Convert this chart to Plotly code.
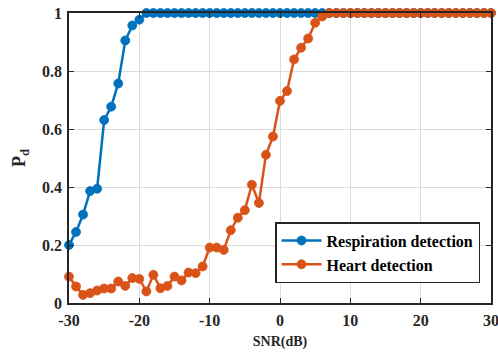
import plotly.graph_objects as go

snr = list(range(-30, 31))

resp_head = [0.20, 0.245, 0.305, 0.386, 0.394, 0.631, 0.677, 0.757, 0.905, 0.957, 0.977]
resp = resp_head + [1.0] * (len(snr) - len(resp_head))

heart_head = [0.091, 0.057, 0.028, 0.034, 0.043, 0.050, 0.050, 0.074, 0.059, 0.086,
              0.083, 0.040, 0.097, 0.051, 0.059, 0.091, 0.078, 0.105, 0.103, 0.126,
              0.191, 0.191, 0.183, 0.251, 0.294, 0.320, 0.408, 0.345, 0.511, 0.574,
              0.697, 0.731, 0.840, 0.880, 0.912, 0.966, 0.988]
heart = heart_head + [1.0] * (len(snr) - len(heart_head))

series_names = ["Respiration detection", "Heart detection"]
colors = ["#0072BD", "#D95319"]
x_ticks = [-30, -20, -10, 0, 10, 20, 30]
x_tick_labels = ["-30", "-20", "-10", "0", "10", "20", "30"]
y_ticks = [0, 0.2, 0.4, 0.6, 0.8, 1]
y_tick_labels = ["0", "0.2", "0.4", "0.6", "0.8", "1"]

FONT = "Liberation Serif"

fig = go.Figure()
for name, ys, c in zip(series_names, [resp, heart], colors):
    fig.add_trace(go.Scatter(
        x=snr, y=ys, mode="lines+markers", name=name,
        line=dict(color=c, width=2.5),
        marker=dict(symbol="circle", size=9, color=c, line=dict(width=0.8, color=c)),
        cliponaxis=False,
    ))

axis_common = dict(
    showline=True, linecolor="#262626", linewidth=1.5, mirror="ticks",
    ticks="inside", ticklen=5, tickcolor="#262626", tickwidth=1,
    showgrid=True, gridcolor="#dcdcdc", gridwidth=1.3, zeroline=False,
    automargin=False, ticklabeloverflow="allow",
    tickfont=dict(family=FONT, size=16, color="#262626", weight="bold"),
)

fig.update_layout(
    width=498, height=354,
    margin=dict(l=69, r=7, t=13, b=51),
    paper_bgcolor="white", plot_bgcolor="white",
    font=dict(family=FONT, color="#262626"),
    xaxis=dict(range=[-30, 30], tickvals=x_ticks, ticktext=x_tick_labels, ticklabelstandoff=2,
               title=dict(text="SNR(dB)", font=dict(family=FONT, size=14, weight="bold"), standoff=8),
               **axis_common),
    yaxis=dict(range=[0, 1], tickvals=y_ticks, ticktext=y_tick_labels, ticklabelstandoff=2,
               title=dict(text="P<sub>d</sub>", font=dict(family=FONT, size=18, weight="bold"), standoff=12),
               **axis_common),
    legend=dict(
        x=0.974, y=0.279, xanchor="right", yanchor="top",
        bgcolor="white", bordercolor="#262626", borderwidth=1.5,
        font=dict(family=FONT, size=16, color="black", weight="bold"),
        tracegroupgap=0, itemwidth=40,
    ),
    showlegend=True,
)

fig.write_html("out.html", config={"displayModeBar": False},
               post_script="document.body.style.margin='0px';")
